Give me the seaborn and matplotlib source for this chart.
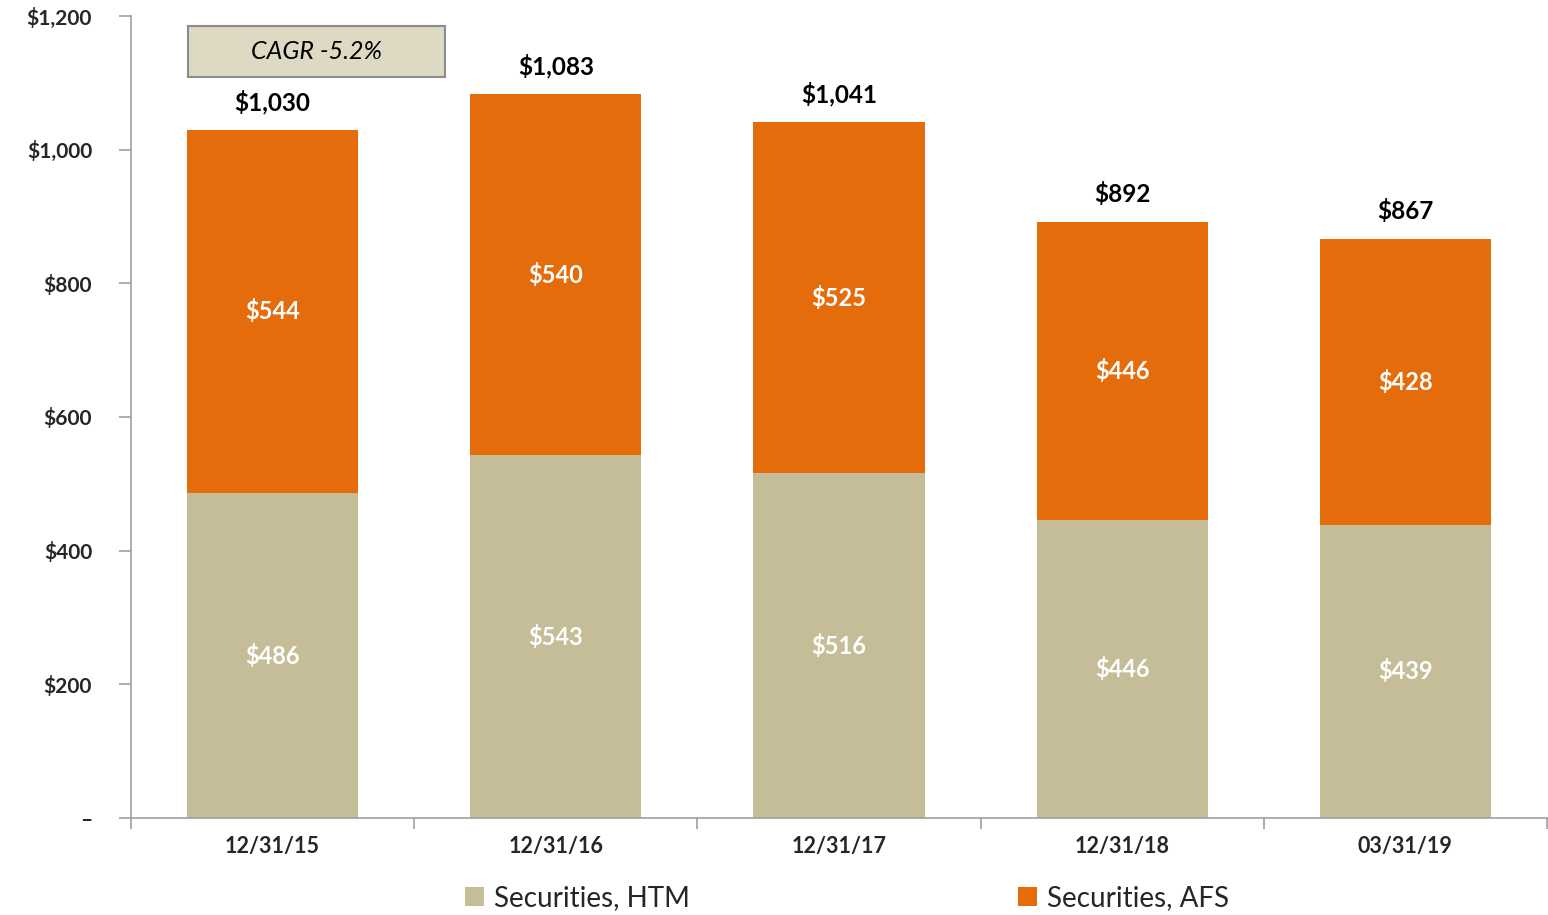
import matplotlib
matplotlib.use("Agg")
import matplotlib.pyplot as plt
import seaborn as sns
import pandas as pd
from matplotlib.patches import Rectangle, Patch

categories = ["12/31/15", "12/31/16", "12/31/17", "12/31/18", "03/31/19"]
htm = [486, 543, 516, 446, 439]
afs = [544, 540, 525, 446, 428]
totals = [1030, 1083, 1041, 892, 867]
ytick_vals = [0, 200, 400, 600, 800, 1000, 1200]
ytick_labels = ["–", "$200", "$400", "$600", "$800", "$1,000", "$1,200"]
cagr_text = "CAGR -5.2%"

C_HTM = "#C4BD97"
C_AFS = "#E46C0A"
AXC = "#A0A0A0"

sns.set_theme(style="white")
plt.rcParams["font.family"] = ["Lato", "DejaVu Sans"]

df = pd.DataFrame({"cat": categories, "htm": htm, "afs": afs,
                   "stack": [h + a for h, a in zip(htm, afs)]})

fig = plt.figure(figsize=(15.48, 9.15), dpi=100)
ax = fig.add_axes([131/1548, 1 - 818/915, (1547-131)/1548, (818-16)/915])

sns.barplot(data=df, x="cat", y="stack", color=C_AFS, width=0.604,
            saturation=1, ax=ax, linewidth=0)
sns.barplot(data=df, x="cat", y="htm", color=C_HTM, width=0.604,
            saturation=1, ax=ax, linewidth=0)

ax.set_xlim(-0.5, len(categories) - 0.5)
ax.set_ylim(0, 1200)
ax.set_xlabel("")
ax.set_ylabel("")

for s in ["top", "right"]:
    ax.spines[s].set_visible(False)
for s in ["left", "bottom"]:
    ax.spines[s].set_color(AXC)
    ax.spines[s].set_linewidth(1.2)

ax.set_yticks(ytick_vals)
ax.set_yticklabels(ytick_labels, fontsize=15, fontweight="bold")
ax.tick_params(axis="y", length=9, width=1.2, color=AXC, pad=19, direction="out", left=True)

ax.set_xticks([i - 0.5 for i in range(len(categories) + 1)])
ax.set_xticklabels([""] * (len(categories) + 1))
ax.set_xticks(range(len(categories)), minor=True)
ax.set_xticklabels(categories, minor=True, fontsize=15.5, fontweight="bold")
ax.tick_params(axis="x", which="major", length=8, width=1.2, color=AXC, direction="out", bottom=True)
ax.tick_params(axis="x", which="minor", length=0, pad=13, bottom=True)

for i in range(len(categories)):
    top = htm[i] + afs[i]
    ax.annotate(f"${totals[i]:,}", (i, top), xytext=(0, 20), textcoords="offset points",
                ha="center", va="center", fontsize=17.5, fontweight="bold", color="black")
    ax.text(i, htm[i] + afs[i] / 2, f"${afs[i]:,}", ha="center", va="center",
            fontsize=17, fontweight="bold", color="white")
    ax.text(i, htm[i] / 2, f"${htm[i]:,}", ha="center", va="center",
            fontsize=17, fontweight="bold", color="white")

box = Rectangle((-0.299, 1109), 0.908, 76, facecolor="#DDD9C3", edgecolor="#8C8C8C",
                linewidth=1.5, zorder=5, clip_on=False)
ax.add_patch(box)
ax.text(-0.299 + 0.454, 1147, cagr_text, ha="center", va="center", fontsize=18,
        fontstyle="italic", color="black", zorder=6)

handles = [Patch(facecolor=C_HTM, edgecolor="none", label="Securities, HTM"),
           Patch(facecolor=C_AFS, edgecolor="none", label="Securities, AFS")]
fig.legend(handles=handles, loc="center", bbox_to_anchor=(0.547, 1 - 898/915), ncol=2,
           frameon=False, fontsize=20, handlelength=0.7, handleheight=0.7,
           handletextpad=0.35, columnspacing=11.8)

fig.savefig("out.png", dpi=100)
